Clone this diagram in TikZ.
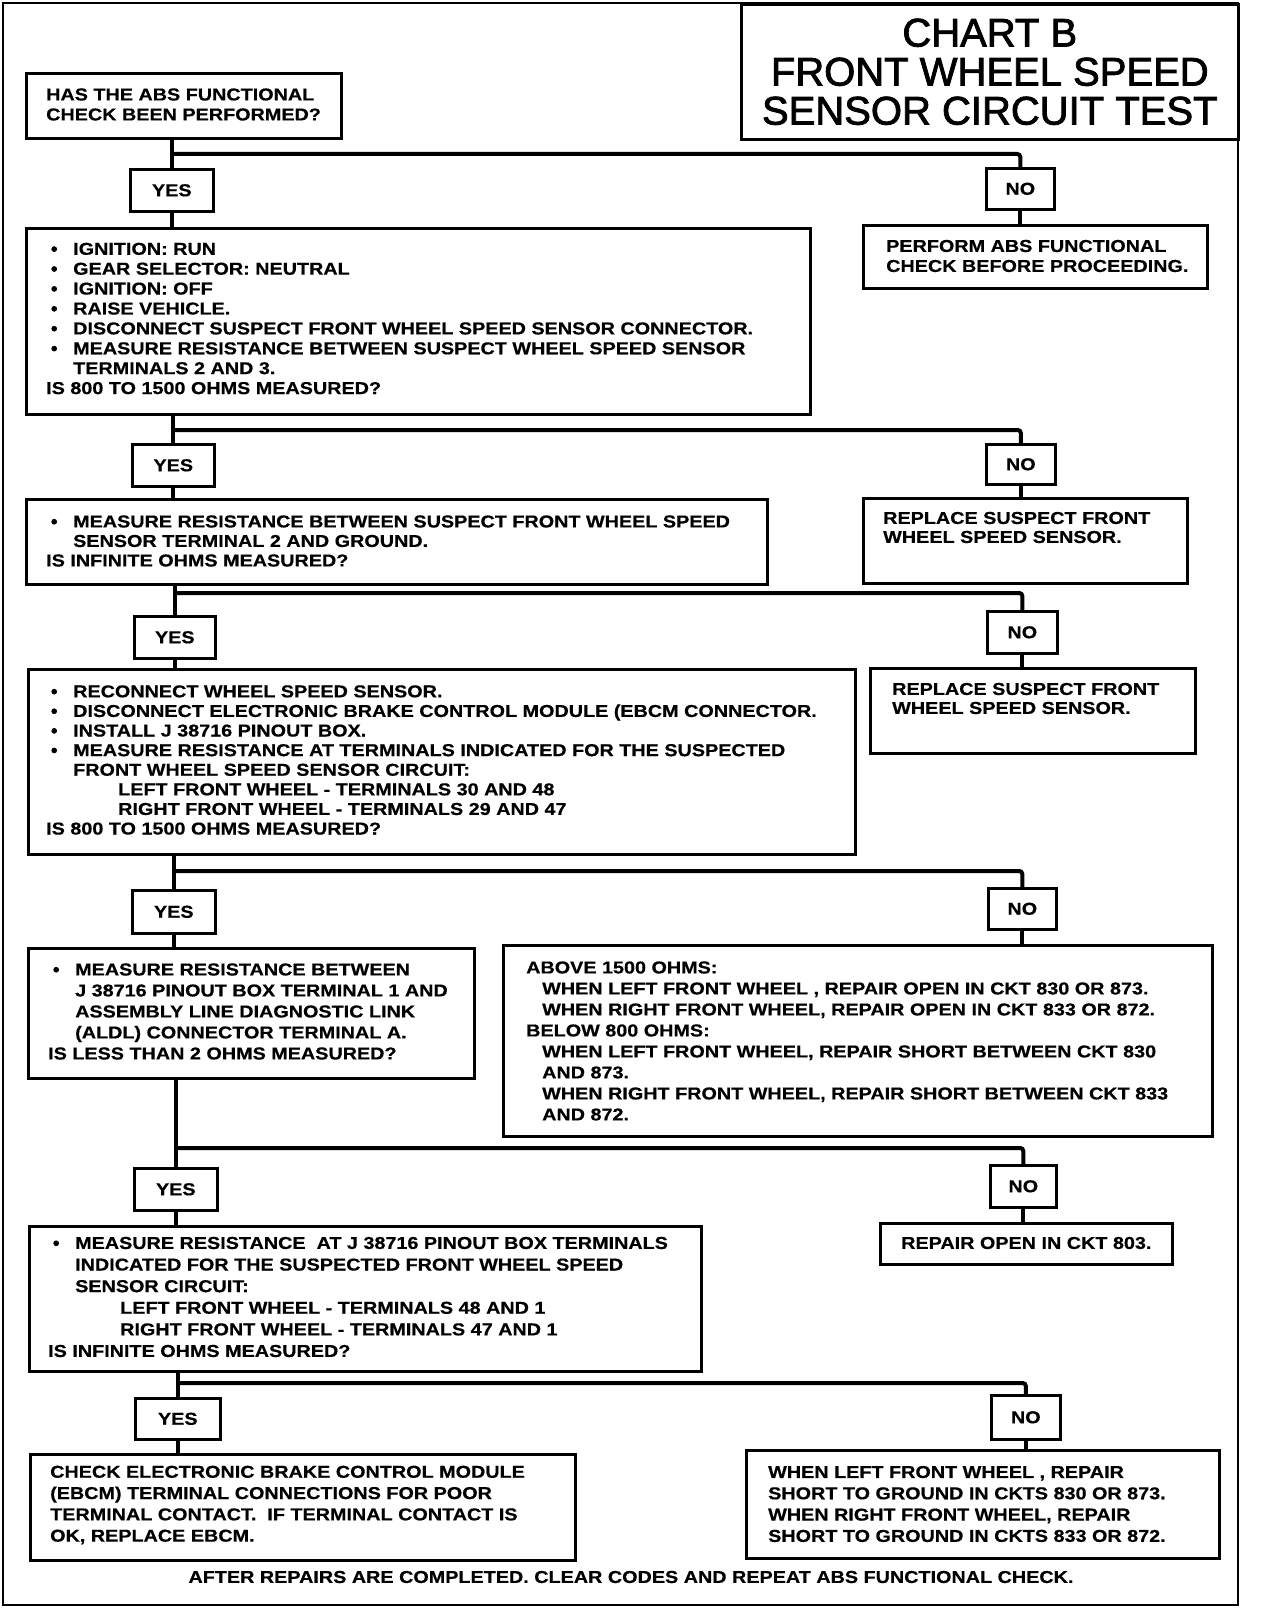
\documentclass[tikz,border=0pt]{standalone}
\usepackage{fontspec}
\newfontfamily\bodyfont[FakeStretch=1.15,FakeBold=0.5]{Liberation Sans}
\newfontfamily\bulfont[FakeBold=4]{Liberation Sans}
\newfontfamily\titlefont[FakeBold=2]{Liberation Sans}
\newcommand\bu{\makebox[27pt][l]{\hspace*{5pt}{\bulfont •}}}
\newcommand\cl{\hspace*{27pt}}
\newcommand\il{\hspace*{72pt}}
\begin{document}
\begin{tikzpicture}[x=1pt,y=-1pt,
  boxs/.style={draw, line width=2.6pt, rectangle, anchor=north west, inner sep=0pt},
  yn/.style={boxs, font=\bodyfont\bfseries\fontsize{17.2}{20}\selectfont},
  txt/.style={anchor=west, align=left, inner sep=0pt, font=\bodyfont\bfseries\fontsize{17.2}{#1}\selectfont},
  txt/.default=20.5,
  conn/.style={line width=4pt, rounded corners=3pt}]
\useasboundingbox (0,0) rectangle (1264,1616);
\fill[white] (0,0) rectangle (1264,1616);
\draw[line width=2.6pt] (3,3) rectangle (1238,1605);

% title
\node[boxs, minimum width=497pt, minimum height=135pt, align=center,
  font=\titlefont\fontsize{40}{39}\selectfont] (title) at (740,3)
  {CHART B\\FRONT WHEEL SPEED\\SENSOR CIRCUIT TEST};

% boxes
\node[boxs, minimum width=315pt, minimum height=65pt] (q1) at (25,72) {};
\node[yn, minimum width=83pt, minimum height=42pt] (yes1) at (129,168) {YES};
\node[yn, minimum width=68pt, minimum height=41pt] (no1) at (985,167) {NO};
\node[boxs, minimum width=784pt, minimum height=186pt] (b2) at (25,227) {};
\node[boxs, minimum width=344pt, minimum height=63pt] (r1) at (862,224) {};
\node[yn, minimum width=82pt, minimum height=42pt] (yes2) at (131,443) {YES};
\node[yn, minimum width=69pt, minimum height=40pt] (no2) at (985,443) {NO};
\node[boxs, minimum width=741pt, minimum height=85pt] (b3) at (25,498) {};
\node[boxs, minimum width=324pt, minimum height=85pt] (r2) at (862,497) {};
\node[yn, minimum width=81pt, minimum height=42pt] (yes3) at (133,615) {YES};
\node[yn, minimum width=70pt, minimum height=42pt] (no3) at (986,610) {NO};
\node[boxs, minimum width=827pt, minimum height=185pt] (b4) at (27,668) {};
\node[boxs, minimum width=325pt, minimum height=85pt] (r3) at (869,667) {};
\node[yn, minimum width=83pt, minimum height=43pt] (yes4) at (131,889) {YES};
\node[yn, minimum width=68pt, minimum height=41pt] (no4) at (987,887) {NO};
\node[boxs, minimum width=446pt, minimum height=130pt] (b5) at (27,947) {};
\node[boxs, minimum width=709pt, minimum height=191pt] (r4) at (502,944) {};
\node[yn, minimum width=83pt, minimum height=42pt] (yes5) at (133,1167) {YES};
\node[yn, minimum width=66pt, minimum height=42pt] (no5) at (989,1164) {NO};
\node[boxs, minimum width=672pt, minimum height=145pt] (b6) at (28,1225) {};
\node[boxs, minimum width=292pt, minimum height=41pt] (r5) at (879,1222) {};
\node[yn, minimum width=85pt, minimum height=41pt] (yes6) at (134,1397) {YES};
\node[yn, minimum width=69pt, minimum height=44pt] (no6) at (990,1394) {NO};
\node[boxs, minimum width=545pt, minimum height=106pt] (b7) at (29,1453) {};
\node[boxs, minimum width=473pt, minimum height=108pt] (r6) at (745,1449) {};

% texts
\node[txt=20] (tq1) at (46,104.5) {HAS THE ABS FUNCTIONAL\\CHECK BEEN PERFORMED?};
\node[txt=20] (tr1) at (886,256) {PERFORM ABS FUNCTIONAL\\CHECK BEFORE PROCEEDING.};
\node[txt=19.9] (tb2) at (46,318.5) {\bu IGNITION: RUN\\
\bu GEAR SELECTOR: NEUTRAL\\
\bu IGNITION: OFF\\
\bu RAISE VEHICLE.\\
\bu DISCONNECT SUSPECT FRONT WHEEL SPEED SENSOR CONNECTOR.\\
\bu MEASURE RESISTANCE BETWEEN SUSPECT WHEEL SPEED SENSOR\\
\cl TERMINALS 2 AND 3.\\
IS 800 TO 1500 OHMS MEASURED?};
\node[txt=19] (tr2) at (883,527.5) {REPLACE SUSPECT FRONT\\WHEEL SPEED SENSOR.};
\node[txt=19.5] (tb3) at (46,541) {\bu MEASURE RESISTANCE BETWEEN SUSPECT FRONT WHEEL SPEED\\
\cl SENSOR TERMINAL 2 AND GROUND.\\
IS INFINITE OHMS MEASURED?};
\node[txt=19] (tr3) at (892,698.5) {REPLACE SUSPECT FRONT\\WHEEL SPEED SENSOR.};
\node[txt=19.6] (tb4) at (46,760) {\bu RECONNECT WHEEL SPEED SENSOR.\\
\bu DISCONNECT ELECTRONIC BRAKE CONTROL MODULE (EBCM CONNECTOR.\\
\bu INSTALL J 38716 PINOUT BOX.\\
\bu MEASURE RESISTANCE AT TERMINALS INDICATED FOR THE SUSPECTED\\
\cl FRONT WHEEL SPEED SENSOR CIRCUIT:\\
\il LEFT FRONT WHEEL - TERMINALS 30 AND 48\\
\il RIGHT FRONT WHEEL - TERMINALS 29 AND 47\\
IS 800 TO 1500 OHMS MEASURED?};
\node[txt=21] (tb5) at (48,1011.5) {\bu MEASURE RESISTANCE BETWEEN\\
\cl J 38716 PINOUT BOX TERMINAL 1 AND\\
\cl ASSEMBLY LINE DIAGNOSTIC LINK\\
\cl (ALDL) CONNECTOR TERMINAL A.\\
IS LESS THAN 2 OHMS MEASURED?};
\node[txt=21] (tr4) at (526,1041) {ABOVE 1500 OHMS:\\
\hspace*{16pt}WHEN LEFT FRONT WHEEL , REPAIR OPEN IN CKT 830 OR 873.\\
\hspace*{16pt}WHEN RIGHT FRONT WHEEL, REPAIR OPEN IN CKT 833 OR 872.\\
BELOW 800 OHMS:\\
\hspace*{16pt}WHEN LEFT FRONT WHEEL, REPAIR SHORT BETWEEN CKT 830\\
\hspace*{16pt}AND 873.\\
\hspace*{16pt}WHEN RIGHT FRONT WHEEL, REPAIR SHORT BETWEEN CKT 833\\
\hspace*{16pt}AND 872.};
\node[txt=20] (tr5) at (901,1243) {REPAIR OPEN IN CKT 803.};
\node[txt=21.6] (tb6) at (48,1297) {\bu MEASURE RESISTANCE\ \ AT J 38716 PINOUT BOX TERMINALS\\
\cl INDICATED FOR THE SUSPECTED FRONT WHEEL SPEED\\
\cl SENSOR CIRCUIT:\\
\il LEFT FRONT WHEEL - TERMINALS 48 AND 1\\
\il RIGHT FRONT WHEEL - TERMINALS 47 AND 1\\
IS INFINITE OHMS MEASURED?};
\node[txt=21.3] (tb7) at (50,1505) {CHECK ELECTRONIC BRAKE CONTROL MODULE\\
(EBCM) TERMINAL CONNECTIONS FOR POOR\\
TERMINAL CONTACT.\ \ IF TERMINAL CONTACT IS\\
OK, REPLACE EBCM.};
\node[txt=21.3] (tr6) at (768,1504) {WHEN LEFT FRONT WHEEL , REPAIR\\
SHORT TO GROUND IN CKTS 830 OR 873.\\
WHEN RIGHT FRONT WHEEL, REPAIR\\
SHORT TO GROUND IN CKTS 833 OR 872.};
\node[txt, anchor=center] (foot) at (631,1577) {AFTER REPAIRS ARE COMPLETED. CLEAR CODES AND REPEAT ABS FUNCTIONAL CHECK.};

% branch levels
\coordinate (h1) at (0,154);
\coordinate (h2) at (0,430);
\coordinate (h3) at (0,593);
\coordinate (h4) at (0,871);
\coordinate (h5) at (0,1148);
\coordinate (h6) at (0,1383);

% connectors
\draw[conn] (yes1.north |- q1.south) -- (yes1.north);
\draw[conn] (yes1.north |- h1) -| (no1.north);
\draw[conn] (yes1.south) -- (yes1.south |- b2.north);
\draw[conn] (no1.south) -- (no1.south |- r1.north);

\draw[conn] (yes2.north |- b2.south) -- (yes2.north);
\draw[conn] (yes2.north |- h2) -| (no2.north);
\draw[conn] (yes2.south) -- (yes2.south |- b3.north);
\draw[conn] (no2.south) -- (no2.south |- r2.north);

\draw[conn] (yes3.north |- b3.south) -- (yes3.north);
\draw[conn] (yes3.north |- h3) -| (no3.north);
\draw[conn] (yes3.south) -- (yes3.south |- b4.north);
\draw[conn] (no3.south) -- (no3.south |- r3.north);

\draw[conn] (yes4.north |- b4.south) -- (yes4.north);
\draw[conn] (yes4.north |- h4) -| (no4.north);
\draw[conn] (yes4.south) -- (yes4.south |- b5.north);
\draw[conn] (no4.south) -- (no4.south |- r4.north);

\draw[conn] (yes5.north |- b5.south) -- (yes5.north);
\draw[conn] (yes5.north |- h5) -| (no5.north);
\draw[conn] (yes5.south) -- (yes5.south |- b6.north);
\draw[conn] (no5.south) -- (no5.south |- r5.north);

\draw[conn] (yes6.north |- b6.south) -- (yes6.north);
\draw[conn] (yes6.north |- h6) -| (no6.north);
\draw[conn] (yes6.south) -- (yes6.south |- b7.north);
\draw[conn] (no6.south) -- (no6.south |- r6.north);
\end{tikzpicture}
\end{document}
